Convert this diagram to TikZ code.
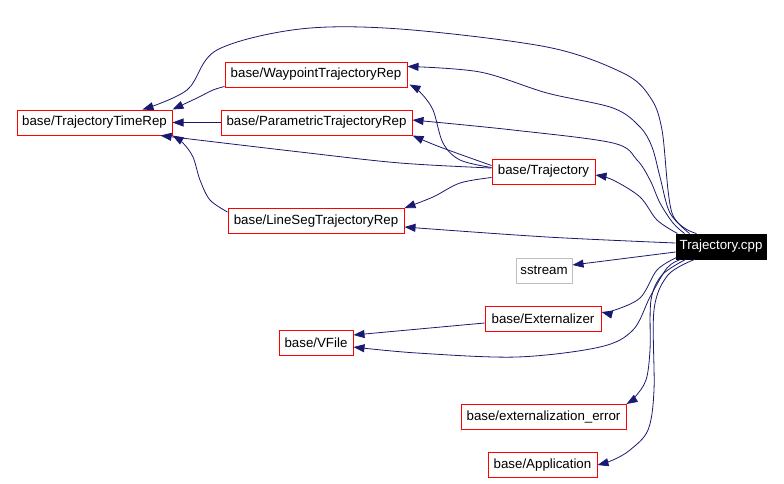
\documentclass[tikz,border=0pt]{standalone}
\usepackage{fontspec}
\setmainfont{Liberation Sans}
\usetikzlibrary{arrows.meta}
\definecolor{depblue}{RGB}{25,25,112}

\begin{document}
\begin{tikzpicture}[x=1pt,y=-1pt,
    file/.style={draw=red,line width=1pt,minimum height=25pt,inner sep=0pt,
      font=\fontsize{13.3}{15}\selectfont},
    sysfile/.style={file,draw=black!25},
    mainfile/.style={file,draw=black,fill=black,text=white},
    dep/.style={depblue,line width=0.8pt,-{Triangle[length=11pt,width=8pt]}}]
  \useasboundingbox (0,0) rectangle (784,483);
  % files
  \node[mainfile,minimum width=90pt] (cpp) at (721,246.5) {Trajectory.cpp};
  \node[file,minimum width=155pt] (timerep) at (94.5,122.5) {base/TrajectoryTimeRep};
  \node[file,minimum width=182pt] (waypt) at (316,74.5) {base/WaypointTrajectoryRep};
  \node[file,minimum width=191pt] (param) at (316.5,122.5) {base/ParametricTrajectoryRep};
  \node[file,minimum width=103pt] (traj) at (543.5,171.5) {base/Trajectory};
  \node[file,minimum width=176pt] (lineseg) at (316,221) {base/LineSegTrajectoryRep};
  \node[sysfile,minimum width=56pt] (sstream) at (544,270.5) {sstream};
  \node[file,minimum width=116pt] (extern) at (543,319) {base/Externalizer};
  \node[file,minimum width=74pt] (vfile) at (316,342.5) {base/VFile};
  \node[file,minimum width=165pt] (exterr) at (543.5,417) {base/externalization\_error};
  \node[file,minimum width=109pt] (app) at (542.5,465) {base/Application};
  % includes of Trajectory.cpp
  \draw[dep] plot[smooth,tension=0.55] coordinates {([xshift=21pt]cpp.north west)
    (672,213) (662,130) (650,97) (623,73) (547,47) (400,29) (300,29) (217,50) (187,90)
    ([xshift=48pt]timerep.north)};
  \draw[dep] plot[smooth,tension=0.55] coordinates {([xshift=14pt]cpp.north west)
    (670,213) (660,177) (652,147) (640,127) (613,108) (547,93) (480,72)
    ([yshift=8pt]waypt.east)};
  \draw[dep] plot[smooth,tension=0.55] coordinates {([xshift=9pt]cpp.north west)
    (673,223) (660,203) (650,180) (637,160) (613,143) (513,130)
    ([yshift=2.5pt]param.east)};
  \draw[dep] plot[smooth,tension=0.55] coordinates {([xshift=2pt]cpp.north west)
    (657,220) (640,197) (613,180) ([yshift=-3.5pt]traj.east)};
  \draw[dep] plot[smooth,tension=0.55] coordinates {([yshift=3.5pt]cpp.west)
    (547,237) ([yshift=-6pt]lineseg.east)};
  \draw[dep] ([yshift=-5.5pt]cpp.west) -- ([yshift=5.5pt]sstream.east);
  \draw[dep] plot[smooth,tension=0.55] coordinates {([xshift=1pt,yshift=2pt]cpp.south west)
    (657,270) (640,298) (612,311) ([yshift=7pt]extern.east)};
  \draw[dep] plot[smooth,tension=0.55] coordinates {([xshift=5pt]cpp.south west)
    (667,268) (650,297) (633,330) (600,347) (517,357) (417,353) ([yshift=-4.5pt]vfile.east)};
  \draw[dep] plot[smooth,tension=0.55] coordinates {([xshift=10pt]cpp.south west)
    (662,275) (651,300) (650,350) (646,380) (635,397) (exterr.north east)};
  \draw[dep] plot[smooth,tension=0.55] coordinates {([xshift=19pt]cpp.south west)
    (668,275) (654,310) (654,390) (648,430) (630,450) (613,460) (app.east)};
  % includes of the other files
  \draw[dep] plot[smooth,tension=0.55] coordinates {([yshift=1pt]waypt.south west)
    (213,90) (197,98) (timerep.north east)};
  \draw[dep] (param.west) -- (timerep.east);
  \draw[dep] plot[smooth,tension=0.55] coordinates {([yshift=-4pt]lineseg.north west)
    (210,200) (200,180) (193,157) (183,143) (timerep.south east)};
  \draw[dep] plot[smooth,tension=0.55] coordinates {([yshift=3.5pt]traj.west)
    (400,163) (300,152) ([xshift=-12pt]timerep.south east)};
  \draw[dep] plot[smooth,tension=0.55] coordinates {([yshift=4pt]traj.west)
    (460,160) (443,143) (433,110) (420,92) ([xshift=2pt,yshift=3pt]waypt.south east)};
  \draw[dep] plot[smooth,tension=0.55] coordinates {([yshift=6pt]traj.west)
    (440,147) (param.south east)};
  \draw[dep] plot[smooth,tension=0.55] coordinates {([yshift=-6pt]traj.west)
    (460,183) (433,197) (lineseg.north east)};
  \draw[dep] ([yshift=-4pt]extern.west) -- ([yshift=7.5pt]vfile.east);
\end{tikzpicture}
\end{document}
